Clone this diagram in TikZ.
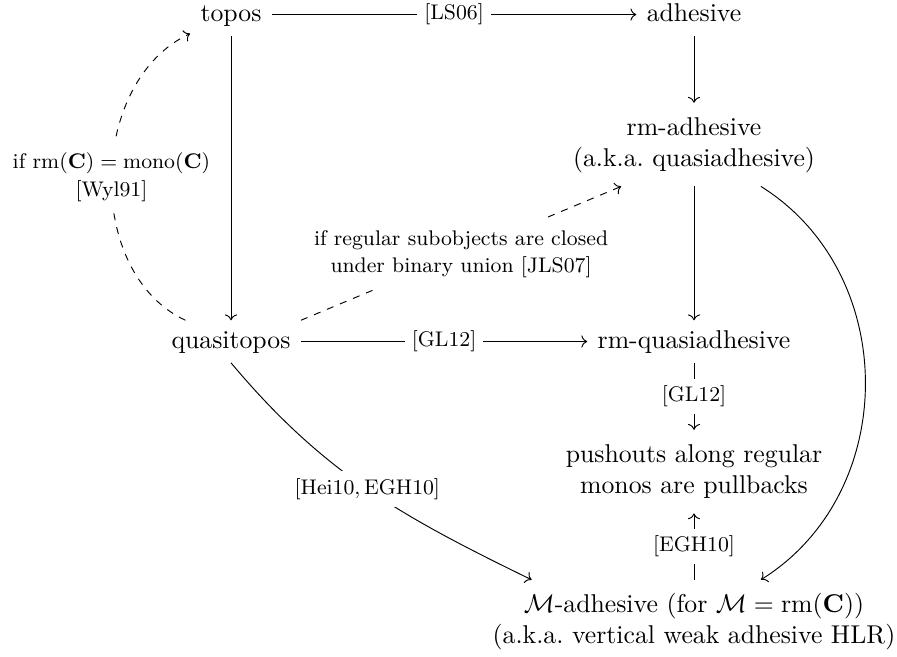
\documentclass[tikz,border=0pt]{standalone}
\usetikzlibrary{arrows.meta,cd}
\begin{document}
\begin{tikzpicture}[x={(0.42553pt,0)},y={(0,-0.42553pt)},
  mainnode/.style={anchor=base,inner xsep=4.25pt,inner ysep=4pt,font=\fontsize{10.95}{13.6}\selectfont},
  mn/.style={mainnode,text height=7.6pt,text depth=2.1pt},
  mm/.style={mainnode},
  lab/.style={fill=white,inner sep=3pt,font=\fontsize{9}{11.6}\selectfont},
  ar/.style={-{cm to},line width=0.4pt},
  dar/.style={ar,dashed}]
\useasboundingbox (0,0) rectangle (897,656);
\node[mn] (topos) at (231,21) {topos};
\node[mn] (adh) at (694,21) {adhesive};
\node[mm] (rmadh) at (694,135) {\begin{tabular}[t]{@{}c@{}}rm-adhesive\\(a.k.a.\ quasiadhesive)\end{tabular}};
\node[mn] (qtopos) at (231,348) {quasitopos};
\node[mn] (rmq) at (694,348) {rm-quasiadhesive};
\node[mm] (po) at (694,462) {\begin{tabular}[t]{@{}c@{}}pushouts along regular\\monos are pullbacks\end{tabular}};
\node[mm] (madh) at (694,612) {\begin{tabular}[t]{@{}c@{}}$\mathcal{M}$-adhesive (for $\mathcal{M}=\mathrm{rm}(\mathbf{C})$)\\(a.k.a.\ vertical weak adhesive HLR)\end{tabular}};

\draw[ar] (topos) -- node[lab] (l1) {[LS06]} (adh);
\draw[ar] (adh) -- (rmadh);
\draw[ar] (topos) -- (qtopos);
\draw[ar] (rmadh) -- (rmq);
\draw[ar] (qtopos) -- node[lab] (l2) {[GL12]} (rmq);
\draw[ar] (rmq) -- node[lab] (l3) {[GL12]} (po);
\draw[ar] (madh) -- node[lab] (l4) {[EGH10]} (po);
\draw[dar] (qtopos) to[out=155,in=205] node[lab] (l5) {\begin{tabular}{@{}c@{}}if $\mathrm{rm}(\mathbf{C})=\mathrm{mono}(\mathbf{C})$\\{}[Wyl91]\end{tabular}} (topos);
\draw[dar] (qtopos.north east) -- node[lab] (l6) {\begin{tabular}{@{}c@{}}if regular subobjects are closed\\under binary union [JLS07]\end{tabular}} ([xshift=-31pt]rmadh.south);
\draw[ar] (qtopos.south) to[out=-50,in=154] node[lab] (l7) {$[\mathrm{Hei10},\mathrm{EGH10}]$} ([xshift=21pt]madh.north west);
\draw[ar] (rmadh) to[out=-32,in=32,looseness=1.07] (madh);
\end{tikzpicture}
\end{document}
